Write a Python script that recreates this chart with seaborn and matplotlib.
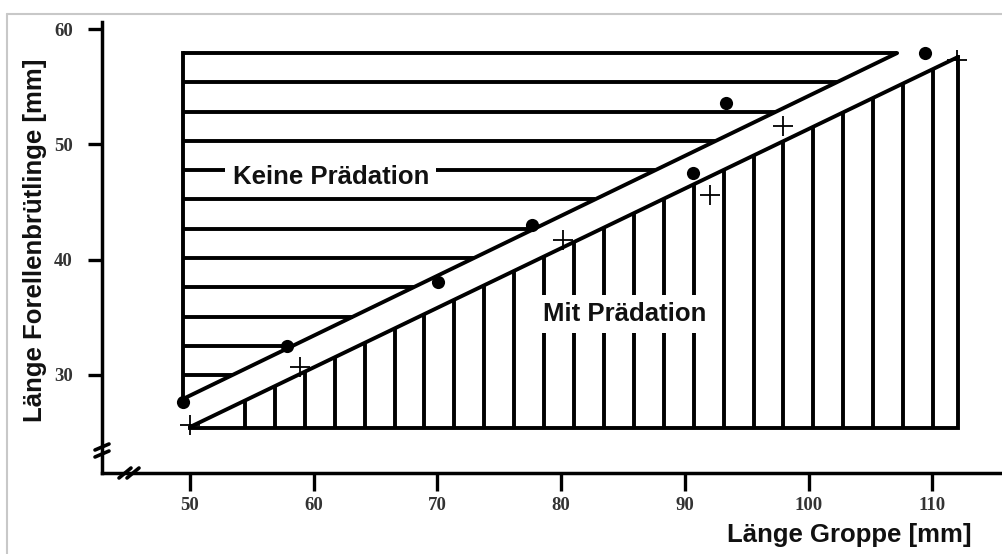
import numpy as np
import matplotlib
matplotlib.use("Agg")
import matplotlib.pyplot as plt
import seaborn as sns
from matplotlib.lines import Line2D

# ---------------- data ----------------
dots_x = [49.4, 57.84, 70.05, 77.65, 90.66, 93.33, 109.4]
dots_y = [27.64, 32.5, 38.06, 43.0, 47.52, 53.59, 57.93]
cross_x = [50.0, 58.9, 80.15, 92.04, 97.94, 112.0]
cross_y = [25.64, 30.68, 41.7, 45.6, 51.6, 57.33]

upper_line_x = [49.6, 107.16]
upper_line_y = [27.99, 57.93]
lower_line_x = [50.0, 112.09]
lower_line_y = [25.47, 57.59]

x_ticks = [50, 60, 70, 80, 90, 100, 110]
y_ticks = [30, 40, 50, 60]

# region bounds
no_pred_left = 49.4
no_pred_top = 57.93
no_pred_lowest_hatch = 29.98
pred_bottom = 25.38
pred_right = 112.09
pred_first_hatch = 54.45
pred_last_hatch = 110.06

label_none = "Keine Prädation"
label_pred = "Mit Prädation"
xlabel = "Länge Groppe [mm]"
ylabel = "Länge Forellenbrütlinge [mm]"

# ---------------- style ----------------
sns.set_style("white")
plt.rcParams["font.family"] = ["Liberation Sans", "DejaVu Sans"]

W, H = 1003, 554
fig = plt.figure(figsize=(W / 100, H / 100), dpi=100)
ax_l, ax_b, ax_w, ax_h = 102 / W, (H - 473) / H, (W - 102) / W, (473 - 22) / H
ax = fig.add_axes([ax_l, ax_b, ax_w, ax_h])
ax.set_xlim(42.89, 115.72)
ax.set_ylim(21.48, 60.625)

LW = 2.8
K = "black"


def line_fn(xs, ys):
    s = (ys[1] - ys[0]) / (xs[1] - xs[0])
    return (lambda x: ys[0] + s * (np.asarray(x) - xs[0])), (lambda y: xs[0] + (np.asarray(y) - ys[0]) / s)


up_y, up_x = line_fn(upper_line_x, upper_line_y)
lo_y, lo_x = line_fn(lower_line_x, lower_line_y)

# upper region (horizontal hatching)
h_levels = np.linspace(no_pred_top, no_pred_lowest_hatch, 12)
ax.hlines(h_levels, no_pred_left, up_x(h_levels), color=K, lw=LW, zorder=2)
ax.plot([no_pred_left, no_pred_left], [float(up_y(no_pred_left)), no_pred_top],
        color=K, lw=LW, solid_capstyle="projecting", zorder=2)

# lower region (vertical hatching)
v_levels = np.linspace(pred_first_hatch, pred_last_hatch, 24)
ax.vlines(v_levels, pred_bottom, lo_y(v_levels), color=K, lw=LW, zorder=2)
ax.plot([lower_line_x[0], pred_right, pred_right], [pred_bottom, pred_bottom, lower_line_y[1]],
        color=K, lw=LW, solid_capstyle="projecting", solid_joinstyle="miter", zorder=2)

# regression lines
sns.lineplot(x=upper_line_x, y=upper_line_y, ax=ax, color=K, lw=LW, zorder=3)
sns.lineplot(x=lower_line_x, y=lower_line_y, ax=ax, color=K, lw=LW, zorder=3)

# points
sns.scatterplot(x=dots_x, y=dots_y, ax=ax, color=K, marker="o", s=90,
                edgecolor=K, linewidth=0, zorder=6)
sns.scatterplot(x=cross_x, y=cross_y, ax=ax, color=K, marker="+", s=190,
                linewidth=1.3, zorder=6)

# region labels
box = dict(boxstyle="square,pad=0.28", fc="white", ec="none")
ax.text(61.38, 47.2, label_none, ha="center", va="center", fontsize=18.5,
        fontweight="bold", color="#111111", bbox=box, zorder=5)
ax.text(85.17, 35.3, label_pred, ha="center", va="center", fontsize=18.5,
        fontweight="bold", color="#111111", bbox=box, zorder=5)

# axes styling
for side in ("top", "right"):
    ax.spines[side].set_visible(False)
for side in ("left", "bottom"):
    ax.spines[side].set_linewidth(2.5)
    ax.spines[side].set_color(K)
    ax.spines[side].set_capstyle("projecting")

ax.set_xticks(x_ticks)
ax.set_yticks(y_ticks)
tick_font = dict(family=["Liberation Serif", "DejaVu Serif"], weight="bold", size=13.5)
ax.set_xticklabels([str(t) for t in x_ticks], fontdict=tick_font)
ax.set_yticklabels([str(t) for t in y_ticks], fontdict=tick_font)
ax.tick_params(axis="x", direction="out", length=13, width=2.4, pad=4,
               colors=K, labelcolor="#333333", bottom=True)
ax.tick_params(axis="y", direction="out", length=10, width=2.4, pad=11,
               colors=K, labelcolor="#333333", left=True)

ax.set_xlabel(xlabel, fontsize=18.5, fontweight="bold", color="#111111", loc="right")
ax.xaxis.label.set_verticalalignment("center")
ax.xaxis.set_label_coords((972 - 102) / 901, (473 - 535) / 451)
ax.set_ylabel(ylabel, fontsize=18.5, fontweight="bold", color="#111111")
ax.yaxis.label.set_verticalalignment("center")
ax.yaxis.set_label_coords((35 - 102) / 901, (473 - 240) / 451)

# axis break marks (axes-fraction decorations)
axw_px, axh_px = 901.0, 451.0


def brk(cx, cy, segs):
    for (x0, y0, x1, y1) in segs:
        ax.add_line(Line2D([cx + x0 / axw_px, cx + x1 / axw_px],
                           [cy + y0 / axh_px, cy + y1 / axh_px],
                           transform=ax.transAxes, color=K, lw=2.6,
                           clip_on=False, zorder=7))


brk(0.0, (473 - 451) / axh_px, [(-7, 1, 7, 7), (-7, -6, 7, 0)])
brk((130 - 102) / axw_px, 0.0, [(-11, -5, 1, 5), (-3, -5, 9, 5)])

# light grey frame of the original picture
fig.add_artist(Line2D([7 / W, 7 / W], [0, 1 - 14 / H], transform=fig.transFigure,
                      color="#c8c8c8", lw=1.5))
fig.add_artist(Line2D([7 / W, 1], [1 - 14 / H, 1 - 14 / H], transform=fig.transFigure,
                      color="#c8c8c8", lw=1.5))

fig.savefig("out.png", dpi=100)
